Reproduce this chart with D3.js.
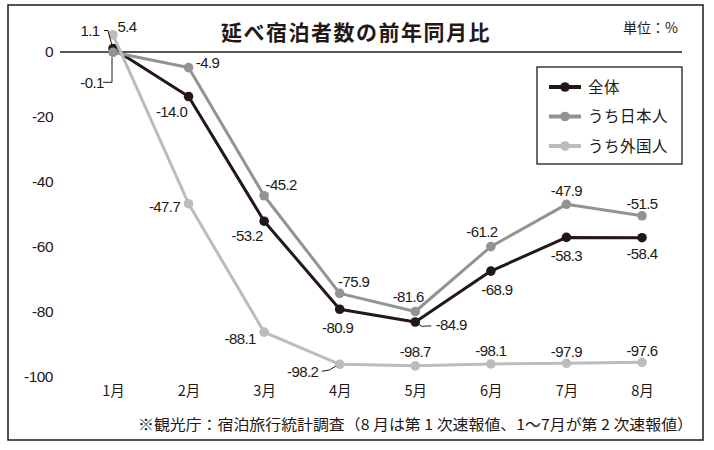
<!DOCTYPE html>
<html><head><meta charset="utf-8">
<script src="https://cdn.jsdelivr.net/npm/d3@7"></script>
<style>
body{margin:0;background:#fff;}
svg{display:block;}
text{font-family:"Noto Sans CJK JP","Liberation Sans",sans-serif;fill:#231815;}
.num{font-family:"Liberation Sans","Noto Sans CJK JP",sans-serif;}
</style></head>
<body>
<svg id="c" width="714" height="450"></svg>
<script>
const months = ["1月","2月","3月","4月","5月","6月","7月","8月"];
const overall = [1.1, -14.0, -53.2, -80.9, -84.9, -68.9, -58.3, -58.4];
const japanese = [-0.1, -4.9, -45.2, -75.9, -81.6, -61.2, -47.9, -51.5];
const foreign = [5.4, -47.7, -88.1, -98.2, -98.7, -98.1, -97.9, -97.6];
const yTicks = [0, -20, -40, -60, -80, -100];
const seriesNames = ["全体", "うち日本人", "うち外国人"];
const title = "延べ宿泊者数の前年同月比";
const unitText = "単位：%";
const footnote = "※観光庁：宿泊旅行統計調査（8 月は第 1 次速報値、1〜7月が第 2 次速報値）";

// label offsets (placement only)
const offOverall = [[-23,-18],[-17,15],[-17,14],[-2,18],[36,3],[6,18],[0,18],[0,16]];
const offJapanese = [[-21,30],[19,-5],[17,-11],[14,-12],[-7,-15],[-9,-15],[0,-14],[0,-12]];
const offForeign = [[14,-8],[-24,3],[-24,6],[-37,7],[0,-14],[0,-13],[0,-12],[0,-12]];

const svg = d3.select("#c");
const x = d3.scalePoint().domain(months).range([113, 642]);
const y = d3.scaleLinear().domain([0, -100]).range([52, 370]);
const yLab = d3.scaleLinear().domain([0, -100]).range([52, 377]);
const fmt1 = d => d.toFixed(1);
const fmt0 = d => String(d);

// frame
svg.append("rect").attr("x",8).attr("y",5).attr("width",695).attr("height",435)
  .attr("fill","none").attr("stroke","#231815").attr("stroke-width",1.5);

// title & unit
svg.append("text").attr("x",356).attr("y",40).attr("text-anchor","middle")
  .style("font-size","21px").style("font-weight","bold").style("letter-spacing","1.5px").text(title);
svg.append("text").attr("x",678).attr("y",33).attr("text-anchor","end")
  .style("font-size","14px").text(unitText);

// y axis labels
const yAxis = d3.axisLeft(yLab).tickValues(yTicks).tickSize(0).tickPadding(0).tickFormat(fmt0);
const gy = svg.append("g").attr("transform","translate(53,0)").call(yAxis);
gy.select(".domain").remove();
gy.selectAll("text").attr("class","num").style("font-size","15.5px").style("fill","#231815")
  .style("font-family","'Liberation Sans',sans-serif").style("letter-spacing","-0.5px");

// zero line
svg.append("line").attr("x1",60).attr("x2",682).attr("y1",y(0)).attr("y2",y(0))
  .attr("stroke","#231815").attr("stroke-width",1.3);

// x labels
const xAxis = d3.axisBottom(x).tickSize(0).tickPadding(0);
const gx = svg.append("g").attr("transform","translate(0,385)").call(xAxis);
gx.select(".domain").remove();
gx.selectAll("text").style("font-size","14.5px").style("fill","#231815")
  .style("font-family","'Noto Sans CJK JP',sans-serif").attr("dy","0.75em");

// footnote
svg.append("text").attr("x",138).attr("y",430).attr("textLength",555).attr("lengthAdjust","spacingAndGlyphs")
  .style("font-size","15px").text(footnote);

const line = d3.line().x((d,i)=>x(months[i])).y(d=>y(d));
const colors = ["#231815", "#939393", "#bcbcbc"];
const series = [overall, japanese, foreign];
const offs = [offOverall, offJapanese, offForeign];
const order = [0, 1, 2];

order.forEach(s => {
  svg.append("path").datum(series[s]).attr("d", line).attr("fill","none")
    .attr("stroke", colors[s]).attr("stroke-width", 3).attr("stroke-linejoin","round");
  svg.selectAll(null).data(series[s]).enter().append("circle")
    .attr("cx",(d,i)=>x(months[i])).attr("cy",d=>y(d)).attr("r",4.8).attr("fill",colors[s]);
});

// data labels
order.forEach(s => {
  svg.selectAll(null).data(series[s]).enter().append("text").attr("class","num")
    .attr("x",(d,i)=>x(months[i]) + offs[s][i][0])
    .attr("y",(d,i)=>y(d) + offs[s][i][1])
    .attr("dy","0.36em").attr("text-anchor","middle")
    .style("font-size","15px").style("letter-spacing","-0.6px")
    .text(fmt1);
});

// leader lines
const lp = d3.path();
{ const px = x(months[0]), py = y(overall[0]);
  lp.moveTo(px-9, py-18); lp.lineTo(px-5, py-18); lp.lineTo(px-1, py-3); }
{ const px = x(months[0]), py = y(japanese[0]);
  lp.moveTo(px-10, py+30); lp.lineTo(px-1, py+30); lp.lineTo(px-1, py+5); }
{ const px = x(months[4]), py = y(overall[4]);
  lp.moveTo(px+3, py+2); lp.quadraticCurveTo(px+7, py+6, px+11, py+4); lp.lineTo(px+16, py+4); }
{ const px = x(months[3]), py = y(foreign[3]);
  lp.moveTo(px-18, py+7); lp.quadraticCurveTo(px-10, py+7, px-4, py+2); }
svg.append("path").attr("d", lp.toString()).attr("fill","none").attr("stroke","#231815").attr("stroke-width",1);

// legend
const lg = svg.append("g");
lg.append("rect").attr("x",537).attr("y",67).attr("width",145).attr("height",97)
  .attr("fill","#fff").attr("stroke","#231815").attr("stroke-width",1.3);
const ly = d3.scalePoint().domain(seriesNames).range([87, 146]);
seriesNames.forEach((n, i) => {
  lg.append("line").attr("x1",549).attr("x2",581).attr("y1",ly(n)).attr("y2",ly(n))
    .attr("stroke",colors[i]).attr("stroke-width",4);
  lg.append("circle").attr("cx",565).attr("cy",ly(n)).attr("r",4.8).attr("fill",colors[i]);
  lg.append("text").attr("x",588).attr("y",ly(n)).attr("dy","0.36em")
    .style("font-size","15.5px").style("letter-spacing","0.5px").text(n);
});
</script>
</body></html>
